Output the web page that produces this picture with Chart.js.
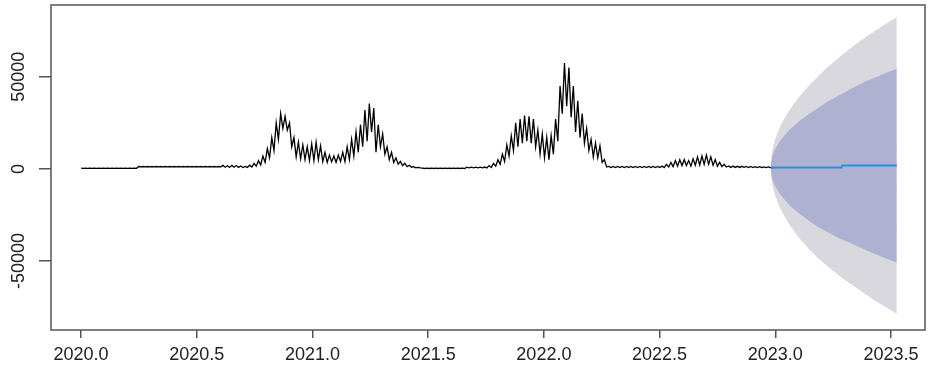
<!DOCTYPE html>
<html>
<head>
<meta charset="utf-8">
<script src="https://cdn.jsdelivr.net/npm/chart.js@4"></script>
<style>
  body { margin: 0; background: #fff; }
</style>
</head>
<body>
<canvas id="myChart" width="928" height="371"></canvas>
<script>
// observed daily cases, read per week: weekly peak and weekly trough
const startYear = 2020.0;
const weeklyHigh = [
  400, 400, 400, 400, 400, 400, 400, 400, 400, 400, 400, 400, 400,
  1300, 1300, 1300, 1300, 1300, 1300, 1300, 1300, 1300, 1300, 1300, 1300, 1300, 1300, 1300, 1300, 1300, 1300, 1300,
  1900, 1700, 1900, 1800, 1600, 1300,
  2000, 3000, 4500, 7000, 11000, 17000, 25000, 30000, 28500, 25000, 17000, 14500, 13000, 12000, 13500, 14500, 12500, 9000, 7500, 7000, 7500,
  9000, 12000, 16000, 20000, 24000, 32000, 35500, 33000, 24000, 19000, 12000, 9000, 6000, 4000, 3000, 2000, 1200, 800,
  400, 400, 400, 400, 400, 400, 400, 400, 400, 400,
  900, 900, 900, 900,
  1000, 1800, 3000, 5000, 8000, 13000, 18000, 25000, 27000, 29000, 28500, 27000, 21000, 19000, 17000, 18000, 27000, 45000, 57500, 55000, 45000, 37000, 30000, 22000, 16000, 14000, 12500, 5000,
  1300, 1300, 1300, 1300, 1300, 1300, 1300, 1300, 1300, 1300, 1300, 1300,
  1500, 2500, 3500, 4500, 5000, 5000, 4500, 5500, 6500, 7000, 7500, 6500, 5000, 3500, 2500,
  1600, 1500, 1400, 1400, 1300, 1300, 1200, 1200, 1100, 1100
];
const weeklyLow = [
  300, 300, 300, 300, 300, 300, 300, 300, 300, 300, 300, 300, 300,
  1100, 1100, 1100, 1100, 1100, 1100, 1100, 1100, 1100, 1100, 1100, 1100, 1100, 1100, 1100, 1100, 1100, 1100, 1100,
  900, 800, 900, 800, 700, 800,
  1000, 1500, 2200, 3500, 6000, 10000, 16000, 22000, 21000, 12000, 6500, 5500, 5000, 4500, 4500, 5000, 4000, 3500, 3800, 3500, 4000,
  4000, 5000, 7000, 9000, 12000, 15000, 20000, 9000, 12000, 8000, 5000, 3500, 2500, 1800, 1200, 900, 600, 500,
  200, 200, 200, 200, 200, 200, 200, 200, 200, 200,
  600, 600, 600, 600,
  500, 800, 1500, 2500, 4000, 7000, 10000, 12000, 14000, 15000, 14000, 12000, 8000, 6000, 5000, 8000, 15000, 30000, 34000, 28000, 20000, 17000, 14000, 10000, 6500, 6000, 3500, 1000,
  700, 700, 700, 700, 700, 700, 700, 700, 700, 700, 700, 700,
  700, 1000, 1200, 1500, 1800, 1800, 1500, 2000, 2000, 2500, 2500, 2000, 1500, 1200, 1000,
  800, 800, 800, 800, 700, 700, 700, 700, 700, 700
];

// forecast
const fcYears = [2022.980, 2022.983, 2022.988, 2022.999, 2023.018, 2023.035, 2023.062, 2023.103, 2023.144,
  2023.185, 2023.226, 2023.287, 2023.289, 2023.350, 2023.391, 2023.432, 2023.473, 2023.525];
const fcMean = [800, 800, 800, 800, 800, 800, 800, 800, 800, 800, 800, 800, 1800, 1800, 1800, 1800, 1800, 1800];
const hi80 = [800, 4500, 7300, 10700, 14800, 17500, 21300, 25800, 29700, 33100, 36600, 40700, 40800, 45000, 47400, 49600, 51800, 54400];
const lo80 = [800, -2900, -5700, -9100, -13200, -15900, -19700, -24200, -28100, -31500, -34400, -38300, -38400, -41800, -44000, -46200, -48400, -50800];
const hi95 = [800, 6500, 10700, 15900, 22200, 26300, 32100, 39100, 45000, 50200, 55300, 61700, 61800, 68000, 71600, 75000, 78400, 82300];
const lo95 = [800, -4900, -9100, -14300, -20600, -24700, -30500, -37500, -43400, -48600, -52900, -59100, -59200, -64600, -68200, -71600, -74800, -78700];

const xTicks = [2020.0, 2020.5, 2021.0, 2021.5, 2022.0, 2022.5, 2023.0, 2023.5];
const yTicks = [-50000, 0, 50000];

const weekLen = 7 / 365.25;
const observed = [];
weeklyHigh.forEach((h, i) => {
  observed.push({ x: startYear + i * weekLen, y: h });
  observed.push({ x: startYear + (i + 0.5) * weekLen, y: weeklyLow[i] });
});
observed.push({ x: fcYears[0], y: fcMean[0] });

const pts = (ys) => ys.map((y, i) => ({ x: fcYears[i], y: y }));

const font = "Liberation Sans, Arial, sans-serif";

const boxPlugin = {
  id: "box",
  afterDraw(chart) {
    const ctx = chart.ctx;
    const a = chart.chartArea;
    ctx.save();
    ctx.strokeStyle = "#555";
    ctx.lineWidth = 1.5;
    ctx.strokeRect(a.left, a.top, a.right - a.left, a.bottom - a.top);
    // rotated y labels, R style
    ctx.fillStyle = "#222";
    ctx.font = "18px " + font;
    ctx.textAlign = "center";
    ctx.textBaseline = "middle";
    yTicks.forEach((v) => {
      const py = chart.scales.y.getPixelForValue(v);
      ctx.save();
      ctx.translate(19, py);
      ctx.rotate(-Math.PI / 2);
      ctx.fillText(String(v), 0, 0);
      ctx.restore();
    });
    ctx.restore();
  },
};

const ctx = document.getElementById("myChart");
new Chart(ctx, {
  type: "line",
  data: {
    datasets: [
      { data: pts(hi95), borderWidth: 0, backgroundColor: "#d8d8de", fill: "+1", order: 6 },
      { data: pts(lo95), borderWidth: 0, fill: false, order: 5 },
      { data: pts(hi80), borderWidth: 0, backgroundColor: "#aeb2d0", fill: "+1", order: 4 },
      { data: pts(lo80), borderWidth: 0, fill: false, order: 3 },
      { data: observed, borderColor: "#000", borderWidth: 1.3, fill: false, order: 2 },
      { data: pts(fcMean), borderColor: "#2a8ee0", borderWidth: 2, fill: false, order: 1 },
    ],
  },
  options: {
    responsive: false,
    animation: false,
    layout: { padding: { top: 5, right: 3, left: 0, bottom: 0 } },
    elements: { point: { radius: 0 }, line: { tension: 0 } },
    plugins: { legend: { display: false }, tooltip: { enabled: false } },
    scales: {
      x: {
        type: "linear",
        min: 2019.87,
        max: 2023.647,
        afterBuildTicks: (s) => { s.ticks = xTicks.map((v) => ({ value: v })); },
        afterFit: (s) => { s.height = 41; },
        border: { display: false },
        grid: { drawOnChartArea: false, drawTicks: true, tickLength: 8, color: "#555", lineWidth: 1.5 },
        ticks: {
          autoSkip: false,
          maxRotation: 0,
          padding: 6,
          color: "#222",
          font: { size: 18, family: font },
          callback: (v) => Number(v).toFixed(1),
        },
      },
      y: {
        min: -87500,
        max: 89000,
        afterBuildTicks: (s) => { s.ticks = yTicks.map((v) => ({ value: v })); },
        afterFit: (s) => { s.width = 51; },
        border: { display: false },
        grid: { drawOnChartArea: false, drawTicks: true, tickLength: 12, color: "#555", lineWidth: 1.5 },
        ticks: { display: false },
      },
    },
  },
  plugins: [boxPlugin],
});
</script>
</body>
</html>
